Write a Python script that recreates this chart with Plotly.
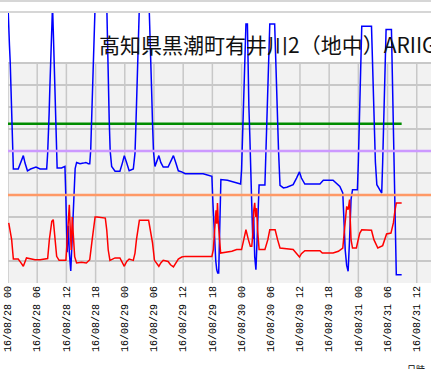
import pandas as pd
import plotly.graph_objects as go

START = pd.Timestamp("2016-08-28 00:00")

# hours from start / values (arbitrary level units, 0..100 = shaded band)
blue_h = [0.0, 0.1, 0.3, 0.45, 0.6, 0.75, 0.85, 0.95, 1.1,
          2.1, 2.6, 3.15, 3.5, 4.0, 4.65, 5.75, 6.6, 7.95,
          8.15, 8.3, 8.45, 8.6, 8.8, 9.0, 9.05, 9.15, 9.3, 9.45, 9.66, 9.86, 10.0, 10.1, 11.0, 11.7,
          11.9, 12.15, 12.4, 12.6, 12.9, 13.2, 13.5, 13.8, 14.1,
          14.8, 15.5, 16.0, 16.5, 16.8,
          17.0, 17.2, 17.4, 17.6, 17.8, 17.9, 20.3, 20.4, 20.5, 20.7, 20.8, 21.0, 21.3, 22.0, 23.0, 23.5, 23.9, 24.4, 24.9, 25.75,
          26.1, 26.3, 26.5, 26.7, 26.9, 27.0, 29.0, 29.1, 29.3, 29.5, 29.7, 29.9, 30.2, 30.6, 31.0, 31.4, 31.9, 32.9, 33.4, 34.0, 34.5, 35.0, 35.7, 36.4, 40.1, 41.1, 41.9,
          42.1, 42.3, 42.5, 42.7, 42.9, 43.1, 43.3, 43.5, 43.75, 45.1, 45.9, 46.9, 47.8,
          48.0, 48.2, 48.4, 48.6, 48.9, 49.2, 49.35, 49.5, 49.7, 49.9,
          50.1, 50.3, 50.5, 50.7, 50.95, 51.2, 51.4, 51.6, 52.8,
          53.0, 53.2, 53.5, 53.8, 54.8, 55.0, 55.3, 55.6, 55.9,
          56.6, 57.3, 58.6, 59.3, 59.9, 60.3, 61.0, 64.1, 64.8, 66.8, 67.5, 68.2, 68.8,
          69.0, 69.3, 69.6, 69.9, 70.2, 70.5, 70.8, 71.8,
          72.0, 72.2, 72.4, 72.55, 72.7, 74.7, 74.9, 75.1, 75.3, 75.5, 75.8, 76.3, 76.8,
          77.0, 77.2, 77.5, 77.7, 78.8, 79.0, 79.2, 79.4, 79.55, 79.7, 79.8, 80.9]
blue_v = [126, 115.5, 108, 100.8, 90, 80, 70.5, 59.8, 51.8,
          51.8, 54.8, 57.9, 54.5, 51, 51.8, 52.7, 51.8, 51.8,
          59, 66, 77, 88.6, 101.5, 115.2, 126, 126, 115.2, 101.5, 88.6, 72.7, 59.8, 52.3, 52.3, 53,
          38, 14, 26, 14, 5.5, 22, 40, 52, 54.8,
          54.2, 54.5, 54.8, 54.2, 54.2,
          60.6, 74.2, 88.6, 101, 114, 126, 126, 114, 101, 88.6, 74.2, 60, 53, 50.8, 50.8, 54.5, 57.9, 54.5, 51, 51.8,
          59, 72.7, 88.6, 101.5, 115.2, 126, 126, 115.2, 101.5, 88.6, 72.7, 59.8, 53, 55.5, 57.9, 54.8, 52.7, 52.7, 55.3, 57.9, 54.5, 51, 50.5, 49.7, 49.7, 49.2, 48.5,
          37, 26, 20, 10, 6, 4.5, 4.5, 25, 47, 46.7, 46.2, 45.5, 45,
          51.5, 66.7, 80.3, 95.5, 117.7, 117.7, 95.5, 80.3, 66.7, 45,
          35, 20, 30, 12, 6, 20, 38, 44.5, 44.5,
          60, 80, 100, 117.7, 117.7, 100, 80, 60, 44.4,
          43.2, 43.5, 44.7, 47.7, 50.5, 47.7, 45, 45, 46.7, 46.7, 45.5, 43.9, 40.9,
          30, 15, 8, 5.3, 20, 38, 42.4, 42.4,
          55, 70, 85, 100, 116.7, 116.7, 100, 85, 70, 55, 44.7, 43, 40.9,
          55, 75, 95, 115.2, 115.2, 95, 70, 50, 35, 14.4, 3.8, 3.8]

red_h = [0.15, 0.4, 0.75, 1.1, 2.1, 2.6, 3.15, 3.8, 4.65, 5.55, 6.6, 8.15, 8.5, 9.0, 9.3, 9.65, 10.0, 10.5, 11.9,
         12.2, 12.4, 12.6, 12.8, 13.0, 13.2, 13.4, 13.7, 14.1,
         15.1, 16.1, 16.8, 17.3, 17.9, 18.3, 20.0, 20.3, 20.6, 20.95, 22.0, 23.0, 23.5, 23.9, 24.4, 24.9, 25.75,
         26.1, 26.4, 27.0, 28.9, 29.3, 29.7, 30.1, 30.6, 31.0, 31.4, 31.9, 32.9, 33.4, 34.0, 34.5, 35.0, 35.7, 36.4, 41.9,
         42.2, 42.4, 42.6, 42.75, 42.9, 43.05, 43.2, 43.4, 43.7, 46.0, 47.0, 48.0, 48.4, 48.9, 49.4, 49.8,
         50.1, 50.3, 50.5, 50.7, 50.9, 51.1, 51.3, 51.6, 52.8, 53.4, 53.8, 54.9, 55.4, 55.9, 58.6, 59.3, 59.9, 60.3,
         61.0, 64.1, 64.6, 66.8, 67.9, 68.8,
         69.0, 69.3, 69.6, 69.9, 70.2, 70.35, 70.5, 70.8, 71.6, 72.0, 72.3, 72.7, 74.7, 75.2, 76.0, 77.0, 77.4, 77.8,
         78.7, 79.2, 79.5, 79.8, 80.9]
red_v = [27.3, 24.5, 19.7, 10.9, 10.9, 9.4, 7.6, 11.4, 11.1, 10.6, 10.6, 11.1, 19.7, 28.0, 28.8, 19.7, 12.1, 10.3, 10.3,
         21, 29, 35.6, 24, 15, 30, 22, 12, 9.1,
         9.4, 9.1, 10.6, 19.7, 30, 30, 29.5, 24, 15, 10.3, 11.4, 11.4, 9.1, 7.6, 9.8, 10.9, 10.3,
         13.6, 19.7, 28.5, 28.5, 24.2, 18.2, 10.3, 8.8, 7.6, 9.1, 10.3, 9.8, 8.3, 7.3, 9.1, 10.9, 11.8, 12.1, 12.1,
         15.2, 22, 30, 33, 27, 36.4, 28, 19.7, 13.6, 14.4, 15.2, 15.2, 19.7, 24.2, 19.7, 16.7,
         16.7, 22, 33, 36.4, 30, 34, 24, 15.2, 15.2, 19.7, 24.2, 24.2, 19.7, 15.9, 15.2, 13.6, 11.8, 13.3,
         14.7, 14.7, 13.6, 13.6, 14.4, 15.9,
         21.2, 28.8, 34.8, 33.3, 37.9, 28, 19.7, 15.9, 15.9, 20, 22.7, 24.2, 24, 19.7, 15.9, 17, 19.7, 22.3,
         22.7, 27.3, 32.6, 36.4, 36.4]

green_h = [0.0, 80.9]
green_level = 72.4
purple_level = 60.0
orange_level = 40.0

tick_h = list(range(0, 90, 6))
tick_labels = ["16/08/28 00", "16/08/28 06", "16/08/28 12", "16/08/28 18",
               "16/08/29 00", "16/08/29 06", "16/08/29 12", "16/08/29 18",
               "16/08/30 00", "16/08/30 06", "16/08/30 12", "16/08/30 18",
               "16/08/31 00", "16/08/31 06", "16/08/31 12"]
y_grid = [0, 10, 20, 30, 40, 50, 60, 70, 80, 90, 100]
band_top = 100

title_text = "高知県黒潮町有井川2（地中）ARIIGAWA2"
xaxis_title = "日時"


def to_t(hours):
    return START + pd.to_timedelta(pd.Series(hours, dtype=float), unit="h")


W, H = 431, 369
L, R, T, B = 8, 0, 13, 86
plot_w = W - L - R
x_end_h = plot_w / 4.866
y_top = (H - B - T) / 2.2

fig = go.Figure()
fig.add_trace(go.Scatter(x=to_t(green_h), y=[green_level] * len(green_h), mode="lines",
                         line=dict(color="#008c00", width=2.5), hoverinfo="skip"))
fig.add_trace(go.Scatter(x=to_t(blue_h), y=blue_v, mode="lines",
                         line=dict(color="#0000ff", width=1.5)))
fig.add_trace(go.Scatter(x=to_t(red_h), y=red_v, mode="lines",
                         line=dict(color="#ff0000", width=1.5)))

shapes = []
# shaded band
shapes.append(dict(type="rect", xref="paper", yref="y", x0=0, x1=1, y0=0, y1=band_top,
                   fillcolor="#f2f2f2", line_width=0, layer="below"))
# vertical grid lines only inside the band
for t in to_t(tick_h):
    shapes.append(dict(type="line", xref="x", yref="y", x0=t, x1=t, y0=0, y1=band_top,
                       line=dict(color="#c8c8c8", width=1.5), layer="below"))
# white area above the band
shapes.append(dict(type="rect", xref="paper", yref="y", x0=0, x1=1, y0=band_top + 0.4, y1=y_top + 5,
                   fillcolor="white", line_width=0, layer="below"))
# threshold lines
for lvl, col in [(purple_level, "#cc99ff"), (orange_level, "#ff9966")]:
    shapes.append(dict(type="line", xref="paper", yref="y", x0=0, x1=1, y0=lvl, y1=lvl,
                       line=dict(color=col, width=2.5), layer="above"))
# top frame lines
ph = H - T - B
for py in (1, 12):
    yp = (H - B - py) / ph
    shapes.append(dict(type="line", xref="paper", yref="paper", x0=-0.05, x1=1.05, y0=yp, y1=yp,
                       line=dict(color="#c8c8c8", width=1.5)))

fig.update_layout(
    width=W, height=H,
    margin=dict(l=L, r=R, t=T, b=B, pad=0),
    paper_bgcolor="white", plot_bgcolor="white",
    showlegend=False,
    shapes=shapes,
    annotations=[
        dict(text=title_text, xref="paper", yref="paper",
             x=(97 - L) / plot_w, y=(H - B - 44) / ph, xanchor="left", yanchor="middle",
             showarrow=False, font=dict(family="Noto Sans CJK JP", size=21, color="#111111")),
        dict(text=xaxis_title, xref="paper", yref="paper",
             x=(416 - L) / plot_w, y=(H - B - 361) / ph, xanchor="center", yanchor="top",
             showarrow=False, font=dict(family="Noto Sans CJK JP", size=9, color="#000000")),
    ],
    xaxis=dict(type="date", range=[START, START + pd.Timedelta(hours=x_end_h)],
               tickvals=to_t(tick_h), ticktext=tick_labels, tickangle=-90,
               showgrid=False, zeroline=False, showline=False, ticks="",
               automargin=False,
               tickfont=dict(family="Liberation Mono", size=10, color="#000000")),
    yaxis=dict(range=[0, y_top], tickvals=y_grid, showticklabels=False,
               showgrid=True, gridcolor="#c8c8c8", gridwidth=1.5,
               zeroline=False, showline=False, ticks="", automargin=False),
)

fig.write_html("out.html")
